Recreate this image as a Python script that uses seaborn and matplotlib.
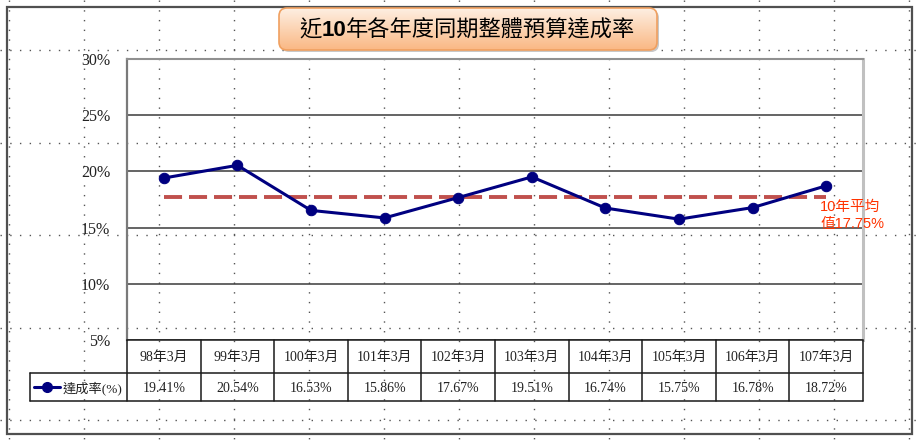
import matplotlib
matplotlib.use("Agg")
import matplotlib.pyplot as plt
import numpy as np
import pandas as pd
import seaborn as sns
from matplotlib.patches import FancyBboxPatch, Rectangle

# data
periods = ["98年3月", "99年3月", "100年3月", "101年3月", "102年3月",
           "103年3月", "104年3月", "105年3月", "106年3月", "107年3月"]
rates = [19.41, 20.54, 16.53, 15.86, 17.67, 19.51, 16.74, 15.75, 16.78, 18.72]
avg_rate = 17.75
y_ticks = [5, 10, 15, 20, 25, 30]
series_name = "達成率(%)"
title_parts = [("近", "normal"), ("10", "bold"), ("年各年度同期整體預算達成率", "normal")]
avg_label = "10年平均\n值17.75%"

sns.set_theme(style="white")
plt.rcParams["lines.scale_dashes"] = False
plt.rcParams["font.family"] = ["Noto Sans CJK TC", "DejaVu Sans"]
serif = ["Liberation Serif", "Noto Sans CJK TC"]
sans = ["Liberation Sans", "Noto Sans CJK TC"]

NAVY = "#000080"
AVG_RED = "#C0504D"

W, H = 921, 442
fig = plt.figure(figsize=(W / 100, H / 100), dpi=100)
fig.patch.set_facecolor("white")

# background layer in pixel coordinates (slide grid, frame, title box)
bg = fig.add_axes([0, 0, 1, 1], zorder=0)
bg.set_xlim(0, W)
bg.set_ylim(H, 0)
bg.axis("off")

dot_style = dict(color="#555555", lw=1.0, linestyle=(0, (1.0, 6.0)), zorder=1)
for gx in np.arange(8.5, W, 75):
    bg.plot([gx, gx], [0, H], **dot_style)
for gy in [50, 142.5, 235, 327.5, 420]:
    bg.plot([0, W], [gy, gy], **dot_style)

bg.add_patch(Rectangle((7, 7), 905, 427, fill=False, edgecolor="#505050",
                       lw=1.6, zorder=2))

# title box with orange gradient
box = FancyBboxPatch((279, 8), 378, 42, boxstyle="round,pad=0,rounding_size=8",
                     facecolor="none", edgecolor="#F0A060", lw=1.2, zorder=6)
shadow = FancyBboxPatch((281, 10), 378, 42, boxstyle="round,pad=0,rounding_size=8",
                        facecolor="#c8c8c8", edgecolor="none", zorder=4)
bg.add_patch(shadow)
bg.add_patch(box)
grad = np.linspace(0, 1, 64).reshape(-1, 1)
top_c = np.array([254, 239, 226]) / 255
bot_c = np.array([250, 184, 132]) / 255
img = top_c + (bot_c - top_c) * grad[..., None]
im = bg.imshow(img.reshape(64, 1, 3), extent=[279, 657, 50, 8], aspect="auto",
               zorder=5, interpolation="bilinear")
im.set_clip_path(box)

texts = []
for s, w in title_parts:
    fam = sans if w == "bold" else ["Noto Sans CJK TC"]
    texts.append(bg.text(0, 30, s, fontsize=16, fontweight=w, family=fam,
                         ha="left", va="center", color="black", zorder=7))
renderer = fig.canvas.get_renderer()
widths = [t.get_window_extent(renderer).width for t in texts]
x0 = 467.5 - sum(widths) / 2
for t, w in zip(texts, widths):
    t.set_x(x0)
    x0 += w

# main plot area
px_l, px_r, px_t, px_b = 127, 863, 59, 340
ax = fig.add_axes([px_l / W, 1 - px_b / H, (px_r - px_l) / W, (px_b - px_t) / H],
                  zorder=2)
ax.set_facecolor("none")

df = pd.DataFrame({"period": periods, "rate": rates,
                   "avg": [avg_rate] * len(periods)})
sns.lineplot(data=df, x="period", y="avg", ax=ax, sort=False, color=AVG_RED,
             lw=2.8, linestyle=(0, (13, 5)))
sns.lineplot(data=df, x="period", y="rate", ax=ax, sort=False, color=NAVY,
             lw=2.2, marker="o", markersize=7.5, markeredgecolor=NAVY)

ax.set_xlim(-0.5, len(periods) - 0.5)
ax.set_ylim(y_ticks[0], y_ticks[-1])
ax.set_yticks(y_ticks)
ax.set_yticklabels([f"{v}%" for v in y_ticks], family=serif, fontsize=11.5,
                   color="#222222")
ax.tick_params(axis="y", length=0, pad=12)
ax.set_xticks([])
ax.set_xlabel("")
ax.set_ylabel("")
ax.set_axisbelow(True)
ax.yaxis.grid(True, color="#3a3a3a", lw=1.1)
ax.spines["bottom"].set_visible(False)
ax.spines["top"].set_color("#909090")
ax.spines["top"].set_linewidth(1.5)
ax.spines["left"].set_color("#7a7a7a")
ax.spines["left"].set_linewidth(1.6)
ax.spines["right"].set_color("#c0c0c0")
ax.spines["right"].set_linewidth(2.2)

ax.text(8.92, 17.45, avg_label, color="#FF3300", fontsize=10.5, family=sans,
        ha="left", va="top", linespacing=1.3)

# data table under the plot
col_w = (px_r - px_l) / len(periods)
tb_l, tb_b = 30, 401
ta = fig.add_axes([tb_l / W, 1 - tb_b / H, (px_r - tb_l) / W, (tb_b - px_b) / H],
                  zorder=2)
ta.set_facecolor("none")
ta.axis("off")
x_left = -0.5 - (px_l - tb_l) / col_w
ta.set_xlim(x_left, len(periods) - 0.5)
ta.set_ylim(tb_b - px_b, 0)
row1, row2 = 33, tb_b - px_b

line_kw = dict(color="#1a1a1a", lw=1.1, clip_on=False)
ta.plot([-0.5, len(periods) - 0.5], [0, 0], **line_kw)
ta.plot([x_left, len(periods) - 0.5], [row1, row1], **line_kw)
ta.plot([x_left, len(periods) - 0.5], [row2, row2], **line_kw)
ta.plot([x_left, x_left], [row1, row2], **line_kw)
for k in range(len(periods) + 1):
    ta.plot([k - 0.5, k - 0.5], [0, row2], **line_kw)

for i, (lab, val) in enumerate(zip(periods, rates)):
    ta.text(i, row1 / 2 + 1, lab, family=serif, fontsize=10, ha="center",
            va="center", color="#222222")
    ta.text(i, (row1 + row2) / 2 + 1, f"{val:.2f}%", family=serif, fontsize=10,
            ha="center", va="center", color="#222222")

leg_y = (row1 + row2) / 2
ta.plot([x_left + 4 / col_w, x_left + 30 / col_w], [leg_y, leg_y], color=NAVY,
        lw=2.2, clip_on=False)
ta.plot([x_left + 17 / col_w], [leg_y], marker="o", color=NAVY, markersize=7,
        clip_on=False)
ta.text(x_left + 33 / col_w, leg_y + 1, series_name, family=serif, fontsize=9.5,
        ha="left", va="center", color="#222222")

fig.savefig("out.png", dpi=100)
